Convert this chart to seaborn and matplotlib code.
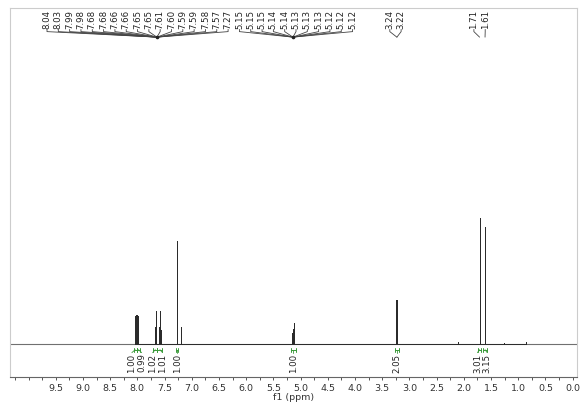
import matplotlib
matplotlib.use('Agg')
from matplotlib import pyplot as plt
from matplotlib import transforms
import numpy as np
import pandas as pd
import seaborn as sns

# --- peak list (ppm, height above baseline)
peak_ppm = [8.05, 8.03, 8.00, 7.98,
            7.68, 7.68, 7.66, 7.66, 7.65, 7.65,
            7.61, 7.60, 7.59, 7.59, 7.58, 7.57,
            7.27, 7.19,
            5.15, 5.15, 5.15, 5.14, 5.14, 5.13, 5.13, 5.13, 5.12, 5.12, 5.12,
            3.24, 3.23, 3.22,
            2.10, 1.71, 1.61, 1.26, 0.85]
peak_height = [28, 29, 29, 28,
               17, 15, 33, 31, 16, 14,
               17, 15, 33, 31, 16, 14,
               103, 17,
               7, 11, 9, 15, 13, 21, 19, 16, 12, 9, 6,
               44, 30, 44,
               2, 126, 117, 1, 2]

# --- peak labels on top, grouped by multiplet (labels, anchor ppm)
labels_arom = [8.04, 8.03, 7.99, 7.98, 7.68, 7.68, 7.66, 7.66, 7.65, 7.65,
               7.61, 7.60, 7.59, 7.59, 7.58, 7.57, 7.27]
labels_ch = [5.15, 5.15, 5.15, 5.14, 5.14, 5.13, 5.13, 5.13, 5.12, 5.12, 5.12]
labels_ch2 = [3.24, 3.22]
labels_me1 = [1.71]
labels_me2 = [1.61]
anchor_ppm = [7.64, 5.14, 3.23, 1.71, 1.61]

# --- integrals
integral_from = [8.07, 8.01, 7.71, 7.63, 7.29, 5.18, 3.27, 1.74, 1.64]
integral_to = [8.01, 7.95, 7.63, 7.54, 7.25, 5.09, 3.19, 1.68, 1.58]
integral_val = [1.00, 0.99, 1.02, 1.01, 1.00, 1.00, 2.05, 3.01, 3.15]

# stick trace for the spectrum
rows = []
for p, h in sorted(zip(peak_ppm, peak_height), reverse=True):
    rows += [(p, 0), (p, h), (p, 0)]
trace = pd.DataFrame(rows, columns=['ppm', 'intensity'])


def spread(centres, gap):
    # push labels apart so that neighbours are at least `gap` ppm apart
    pos = list(centres)
    for _ in range(50):
        moved = False
        for i in range(len(pos) - 1):
            d = pos[i] - pos[i + 1]
            if d < gap - 1e-9:
                shift = (gap - d) / 2
                pos[i] += shift
                pos[i + 1] -= shift
                moved = True
        if not moved:
            break
    return pos


sns.set_theme(style='white')
plt.rcParams['font.family'] = ['DejaVu Sans']

fig = plt.figure(figsize=(5.86, 4.07), dpi=100)
ax = fig.add_axes([10 / 586, 1 - 377 / 407, 567 / 586, 369 / 407])

sns.lineplot(data=trace, x='ppm', y='intensity', sort=False, estimator=None,
             color='#2b2b2b', linewidth=0.7, ax=ax)
ax.axhline(0, color='#707070', lw=0.8, zorder=1)

ax.set_xlim(10.34, -0.08)
ax.set_ylim(-33.5, 335.5)
ax.set_yticks([])
ax.set_ylabel('')

ax.set_xticks(np.arange(0, 9.51, 0.5))
ax.set_xticklabels([f'{t:.1f}' for t in np.arange(0, 9.51, 0.5)])
ax.set_xticks(list(np.arange(0.25, 10.3, 0.5)) + [10.0], minor=True)
ax.tick_params(axis='x', which='both', bottom=True, direction='out',
               length=2.5, width=0.7, color='#555555', pad=2.5,
               labelsize=6.8, labelcolor='#333333')
ax.tick_params(axis='x', which='minor', length=2)
ax.set_xlabel('f1 (ppm)', fontsize=6.8, color='#333333', labelpad=0)

for side in ['top', 'left', 'right']:
    ax.spines[side].set_color('#cccccc')
    ax.spines[side].set_linewidth(0.8)
ax.spines['bottom'].set_color('#666666')
ax.spines['bottom'].set_linewidth(0.8)

trans = transforms.blended_transform_factory(ax.transData, ax.transAxes)

# peak labels: rows of evenly spaced labels, lines to the multiplet anchor
label_rows = [
    (9.66, 0.208, [(labels_arom, anchor_ppm[0]), (labels_ch, anchor_ppm[1])]),
    (3.36, 0.208, [(labels_ch2, anchor_ppm[2])]),
    (1.815, 0.208, [(labels_me1, anchor_ppm[3]), (labels_me2, anchor_ppm[4])]),
]
y_txt, y_tick, y_conv = 0.944, 0.936, 0.921
for start, step, groups in label_rows:
    x = start
    for vals, anchor in groups:
        for v in vals:
            ax.text(x, y_txt, f'{v:.2f}', rotation=90, ha='center', va='bottom',
                    fontsize=6.2, color='#222222', transform=trans)
            ax.plot([x, x, anchor], [y_txt - 0.002, y_tick, y_conv], transform=trans,
                    color='#444444', lw=0.6, clip_on=False)
            x -= step
        if len(vals) > 2:
            ax.plot([anchor], [y_conv], 'o', ms=1.6, color='#222222', transform=trans)

# integrals below the baseline
centres = [(a + b) / 2 for a, b in zip(integral_from, integral_to)]
label_pos = spread(centres, 0.18)
green = '#3a9a3a'
y_b = 0.074
for a, b, c, xl, val in zip(integral_from, integral_to, centres, label_pos, integral_val):
    ax.plot([a, b], [y_b, y_b], transform=trans, color=green, lw=0.7)
    ax.plot([a, a], [y_b - 0.005, y_b + 0.005], transform=trans, color=green, lw=0.7)
    ax.plot([b, b], [y_b - 0.005, y_b + 0.005], transform=trans, color=green, lw=0.7)
    ax.plot([c, xl], [y_b, y_b - 0.008], transform=trans, color=green, lw=0.6)
    ax.text(xl, y_b - 0.01, f'{val:.2f}', rotation=90, ha='center', va='top',
            fontsize=6.2, color='#222222', transform=trans)

fig.savefig('out.png', dpi=100)
